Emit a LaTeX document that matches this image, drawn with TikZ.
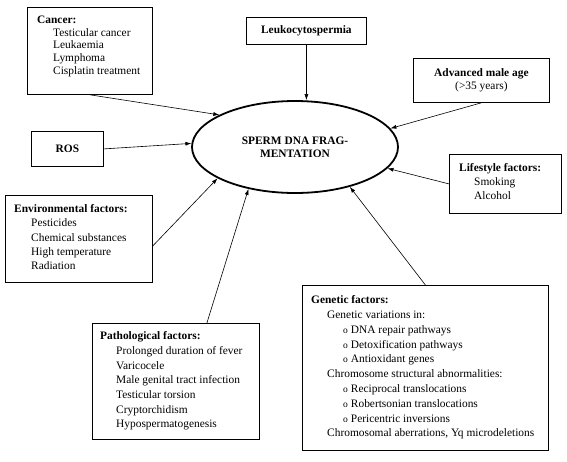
\documentclass[tikz,border=0pt]{standalone}
\usepackage{fontspec}
\setmainfont{Liberation Serif}
\usetikzlibrary{shapes.geometric,arrows.meta}
\newcommand{\ind}{\hspace*{16pt}}
\newcommand{\bul}{\hspace*{32pt}{\fontsize{9.5}{9.5}\selectfont o}\hspace{3pt}}
\tikzset{
  box/.style={draw, line width=0.8pt, anchor=north west, inner sep=0pt},
  factors/.style={anchor=north west, align=left, inner sep=0pt, font=\fontsize{11.4}{#1}\selectfont},
  arr/.style={line width=0.6pt, -{Latex[length=6pt,width=4pt]}},
}
\begin{document}
\begin{tikzpicture}[x=1pt,y=-1pt]
    \useasboundingbox (0,0) rectangle (567,461);
    % \draw [help lines, step=50] (0,0) grid (567,461);
    \node[ellipse, draw, line width=1.8pt, minimum width=206pt, minimum height=92pt, inner sep=0pt, align=center, font=\fontsize{11.4}{13}\selectfont\bfseries] (frag) at (295,147) {SPERM DNA FRAG-\\MENTATION};

    \node[box, minimum width=125pt, minimum height=87pt] (cancer) at (27,7) {};
    \node[factors=12.8] (cancertxt) at (37,15.5) {\textbf{Cancer:}\\ \ind Testicular cancer\\ \ind Leukaemia\\ \ind Lymphoma\\ \ind Cisplatin treatment};

    \node[box, minimum width=120pt, minimum height=27pt, font=\fontsize{11.4}{13}\selectfont\bfseries] (leuko) at (246,17) {Leukocytospermia};

    \node[box, minimum width=136pt, minimum height=44pt, align=center, font=\fontsize{11.4}{13}\selectfont] (adv) at (413,58) {\textbf{Advanced male age}\\(>35 years)};

    \node[box, minimum width=72pt, minimum height=35pt, font=\fontsize{11.4}{13}\selectfont\bfseries] (ros) at (31,131) {ROS};

    \node[box, minimum width=112pt, minimum height=59pt] (life) at (449,154) {};
    \node[factors=14] (lifetxt) at (459,163.5) {\textbf{Lifestyle factors:}\\ \hspace*{15pt}Smoking\\ \hspace*{15pt}Alcohol};

    \node[box, minimum width=147pt, minimum height=87pt] (env) at (5,195) {};
    \node[factors=14.2] (envtxt) at (14,204.5) {\textbf{Environmental factors:}\\ \hspace*{17pt}Pesticides\\ \hspace*{17pt}Chemical substances\\ \hspace*{17pt}High temperature\\ \hspace*{17pt}Radiation};

    \node[box, minimum width=167pt, minimum height=116pt] (patho) at (92,323) {};
    \node[factors=14.7] (pathotxt) at (100,331.5) {\textbf{Pathological factors:}\\ \ind Prolonged duration of fever\\ \ind Varicocele\\ \ind Male genital tract infection\\ \ind Testicular torsion\\ \ind Cryptorchidism\\ \ind Hypospermatogenesis};

    \node[box, minimum width=246pt, minimum height=165pt] (gen) at (302,285) {};
    \node[factors=14.8] (gentxt) at (311,295.5) {\textbf{Genetic factors:}\\ \ind Genetic variations in:\\ \bul DNA repair pathways\\ \bul Detoxification pathways\\ \bul Antioxidant genes\\ \ind Chromosome structural abnormalities:\\ \bul Reciprocal translocations\\ \bul Robertsonian translocations\\ \bul Pericentric inversions\\ \ind Chromosomal aberrations, Yq microdeletions};

    \draw[arr] (cancer.south) -- (frag.157);
    \draw[arr] (ros.east) -- (frag.178);
    \draw[arr] (leuko.south) -- (leuko.south |- frag.north);
    \draw[arr] (adv.south) -- (frag.11);
    \draw[arr] (life.west) -- (frag.347);
    \draw[arr] ([yshift=-7pt]env.east) -- (frag.202);
    \draw[arr] ([xshift=31pt]patho.north) -- (frag.222);
    \draw[arr] (gen.north) -- (frag.324);
\end{tikzpicture}
\end{document}
